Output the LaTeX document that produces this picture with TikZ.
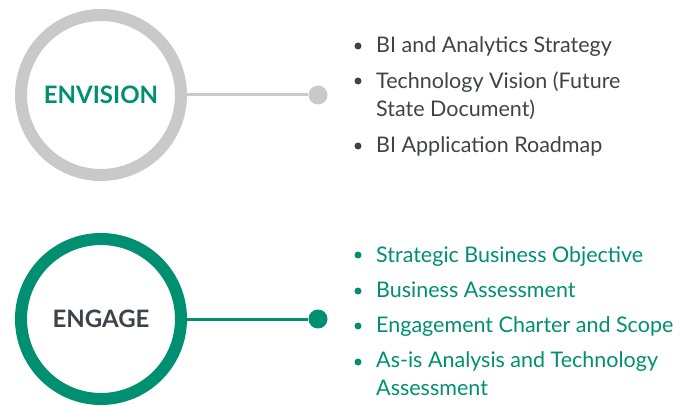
\documentclass[tikz,border=0pt]{standalone}
\usepackage{fontspec}
\setmainfont{Lato}
\definecolor{ringgrey}{HTML}{C8C9C8}
\definecolor{tealgreen}{HTML}{008F70}
\definecolor{darktext}{HTML}{3D434A}
\tikzset{
  ring/.style={circle, line width=12pt, minimum size=160pt, inner sep=0pt, outer sep=6pt, fill=white,
    font=\fontsize{24}{28}\selectfont\bfseries},
  enddot/.style={circle, inner sep=0pt, minimum size=19pt},
  link/.style={line width=3pt},
  bul/.style={circle, inner sep=0pt, minimum size=7pt},
  item/.style={anchor=base west, inner sep=0pt, align=left,
    font=\fontsize{21.5}{28}\selectfont},
}
\begin{document}
\begin{tikzpicture}[x=1pt,y=-1pt]
\useasboundingbox (0,0) rectangle (680,406);
% Envision
\node[ring, draw=ringgrey, text=tealgreen] (env) at (101,95) {ENVISION};
\node[enddot, fill=ringgrey] (envdot) at (318,95) {};
\draw[link, ringgrey] (env) -- (envdot);
\node[bul, fill=darktext] (b1) at (358,46) {};
\node[item, text=darktext] (t1) at (376,53) {BI and Analytics Strategy};
\node[bul, fill=darktext] (b2) at (358,81) {};
\node[item, text=darktext] (t2) at (376,117) {Technology Vision (Future\\State Document)};
\node[bul, fill=darktext] (b3) at (358,146) {};
\node[item, text=darktext] (t3) at (376,153) {BI Application Roadmap};
% Engage
\node[ring, draw=tealgreen, text=darktext] (eng) at (101,319) {ENGAGE};
\node[enddot, fill=tealgreen] (engdot) at (318,319) {};
\draw[link, tealgreen] (eng) -- (engdot);
\node[bul, fill=tealgreen] (c1) at (358,255) {};
\node[item, text=tealgreen] (u1) at (376,262) {Strategic Business Objective};
\node[bul, fill=tealgreen] (c2) at (358,291) {};
\node[item, text=tealgreen] (u2) at (376,297) {Business Assessment};
\node[bul, fill=tealgreen] (c3) at (358,326) {};
\node[item, text=tealgreen] (u3) at (376,332) {Engagement Charter and Scope};
\node[bul, fill=tealgreen] (c4) at (358,362) {};
\node[item, text=tealgreen] (u4) at (376,395) {As-is Analysis and Technology\\Assessment};
\end{tikzpicture}
\end{document}
